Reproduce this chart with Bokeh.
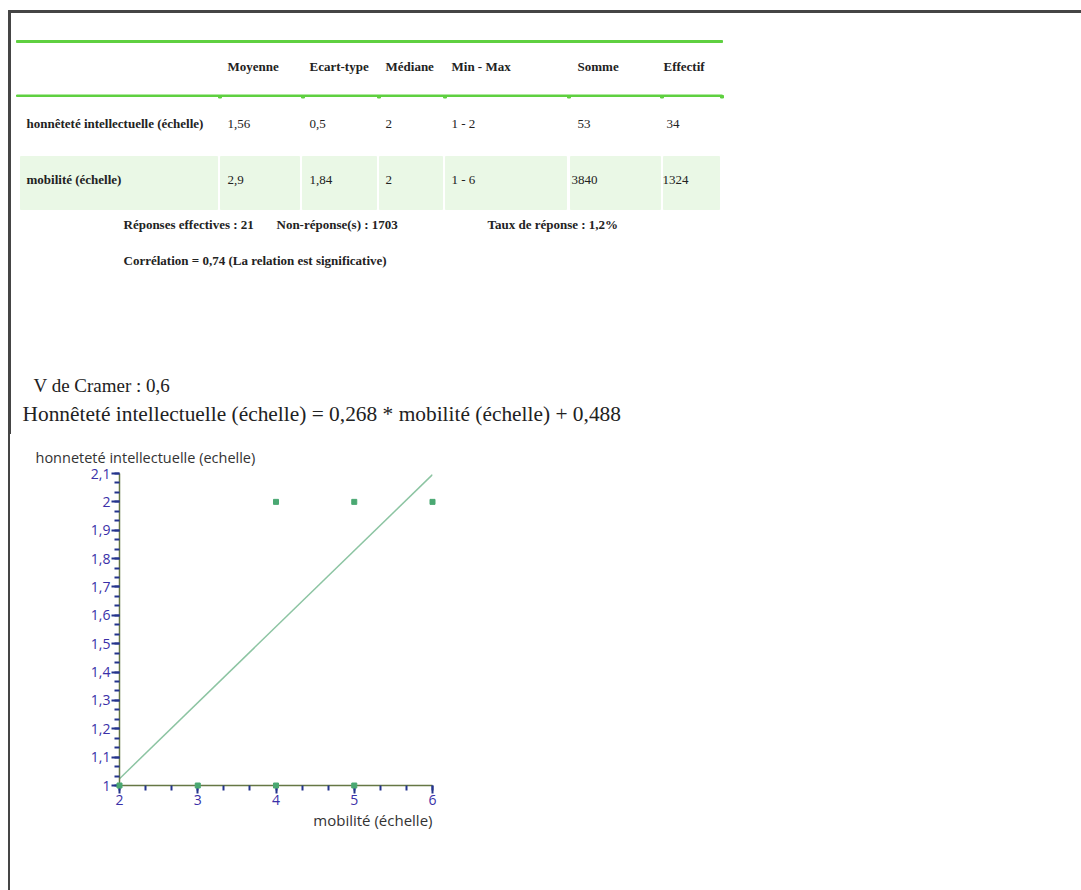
from bokeh.plotting import figure
from bokeh.layouts import column, row
from bokeh.models import Range1d, FixedTicker, Title
from bokeh.core.properties import value
from bokeh.embed import file_html
from bokeh.resources import INLINE
import numpy as np

# ---------------- data ----------------
columns = ["Moyenne", "Ecart-type", "Médiane", "Min - Max", "Somme", "Effectif"]
row_labels = ["honnêteté intellectuelle (échelle)", "mobilité (échelle)"]
row1_values = ["1,56", "0,5", "2", "1 - 2", "53", "34"]
row2_values = ["2,9", "1,84", "2", "1 - 6", "3840", "1324"]
footer_texts = ["Réponses effectives : 21", "Non-réponse(s) : 1703", "Taux de réponse : 1,2%"]
correlation_text = "Corrélation = 0,74 (La relation est significative)"
cramer_text = "V de Cramer : 0,6"
equation_text = "Honnêteté intellectuelle (échelle) = 0,268 * mobilité (échelle) + 0,488"
y_title = "honneteté intellectuelle (echelle)"
x_title = "mobilité (échelle)"

mobilite = [4, 5, 6, 2, 3, 4, 5]
honnetete = [2, 2, 2, 1, 1, 1, 1]
reg_x = [2, 6]
reg_y = [1.024, 2.096]
x_ticks = [2, 3, 4, 5, 6]
x_tick_labels = ["2", "3", "4", "5", "6"]
y_ticks = [1.0, 1.1, 1.2, 1.3, 1.4, 1.5, 1.6, 1.7, 1.8, 1.9, 2.0, 2.1]
y_tick_labels = ["1", "1,1", "1,2", "1,3", "1,4", "1,5", "1,6", "1,7", "1,8", "1,9", "2", "2,1"]

# ---------------- styling ----------------
SERIF = value("Liberation Serif")
TXT = "#222222"
GREEN_LINE = "#5fd040"
CELL = "#eaf8e6"
FRAME = "#454545"

W = 1081
H1 = 434

top = figure(width=W, height=H1, x_range=Range1d(0, W), y_range=Range1d(H1, 0),
             output_backend="svg", toolbar_location=None, min_border=0,
             x_axis_type=None, y_axis_type=None, outline_line_color=None)

# frame (top + left)
top.quad(left=8, right=W, top=10, bottom=12, color=FRAME)
top.quad(left=8, right=10, top=10, bottom=H1, color=FRAME)

# table lines
top.quad(left=16, right=722, top=40, bottom=42, color=GREEN_LINE)
top.quad(left=16, right=722, top=94.5, bottom=96, color=GREEN_LINE)
sep_x = [218, 301, 377, 443, 567, 660, 720]
top.quad(left=sep_x, right=[v + 3 for v in sep_x], top=95, bottom=97.5, color=GREEN_LINE)

# row 2 cells
cell_l = [20, 220, 302, 379, 445, 570, 663]
cell_r = [217, 299, 376, 442, 566, 660, 719]
top.quad(left=cell_l, right=cell_r, top=156, bottom=209, color=CELL)

head_x = [227, 309, 385, 451, 577, 663]
r1_x = [227, 309, 385, 451, 577, 666]
r2_x = [227, 309, 385, 451, 571, 662]

top.text(x=head_x, y=[66] * 6, text=columns,
         text_font=SERIF, text_font_size="13px", text_font_style="bold",
         text_baseline="middle", text_color=TXT)
top.text(x=[26, 26], y=[123, 179], text=row_labels,
         text_font=SERIF, text_font_size="13px", text_font_style="bold",
         text_baseline="middle", text_color=TXT)
top.text(x=r1_x, y=[123] * 6, text=row1_values,
         text_font=SERIF, text_font_size="13px",
         text_baseline="middle", text_color=TXT)
top.text(x=r2_x, y=[179] * 6, text=row2_values,
         text_font=SERIF, text_font_size="13px",
         text_baseline="middle", text_color=TXT)

top.text(x=[123, 276, 487, 123], y=[224, 224, 224, 260],
         text=footer_texts + [correlation_text],
         text_font=SERIF, text_font_size="13px", text_font_style="bold",
         text_baseline="middle", text_color=TXT)

top.text(x=[33], y=[385], text=[cramer_text],
         text_font=SERIF, text_font_size="19px",
         text_baseline="middle", text_color=TXT)
top.text(x=[22], y=[413], text=[equation_text],
         text_font=SERIF, text_font_size="21.4px",
         text_baseline="middle", text_color=TXT)

# ---------------- scatter ----------------
H2 = 890 - H1
edge = figure(width=10, height=H2, x_range=Range1d(0, 10), y_range=Range1d(0, 1),
              min_border=0, x_axis_type=None, y_axis_type=None,
              outline_line_color=None, output_backend="svg", toolbar_location=None)
edge.quad(left=8, right=10, bottom=-2, top=3, color=FRAME, level="overlay")

sc = figure(width=471, height=H2, x_range=Range1d(2, 6), y_range=Range1d(1, 2.1),
            min_border_left=109, min_border_right=49, min_border_top=473 - H1,
            min_border_bottom=105, output_backend="svg", toolbar_location=None,
            outline_line_color=None)
sc.grid.visible = False

sc.title.text = y_title
sc.title.align = "left"
sc.title.offset = -84
sc.title.standoff = 14
sc.title.text_font = "Open Sans"
sc.title.text_font_size = "14.5px"
sc.title.text_font_style = "normal"
sc.title.text_color = "#333333"

AXIS_LINE = "#667744"
TICK = "#24348c"
LABEL = "#3a30a8"

sc.xaxis.ticker = FixedTicker(ticks=x_ticks, minor_ticks=list(np.linspace(2, 6, 13)))
sc.xaxis.major_label_overrides = dict(zip(x_ticks, x_tick_labels))
sc.yaxis.ticker = FixedTicker(ticks=y_ticks, minor_ticks=list(np.linspace(1, 2.1, 34)))
sc.yaxis.major_label_overrides = dict(zip(y_ticks, y_tick_labels))

for ax in (sc.xaxis, sc.yaxis):
    ax.axis_line_color = AXIS_LINE
    ax.axis_line_width = 1.5
    ax.major_tick_line_color = TICK
    ax.major_tick_line_width = 2
    ax.minor_tick_line_color = TICK
    ax.minor_tick_line_width = 2
    ax.major_tick_in = 0
    ax.major_tick_out = 8
    ax.minor_tick_in = 0
    ax.minor_tick_out = 5
    ax.major_label_text_color = LABEL
    ax.major_label_text_font = "Open Sans"
    ax.major_label_text_font_size = "14px"
    ax.major_label_standoff = 1

sc.add_layout(Title(text=x_title, align="right", text_font="Open Sans",
                    text_font_size="15px", text_font_style="normal",
                    text_color="#333333", standoff=0), "below")

sc.line(reg_x, reg_y, line_color="#8cc4a2", line_width=1.5)
sc.scatter(mobilite, honnetete, marker="square", size=5, color="#4aa872",
           level="overlay")

layout = column(top, row(edge, sc))
open("out.html", "w").write(file_html(layout, INLINE))
